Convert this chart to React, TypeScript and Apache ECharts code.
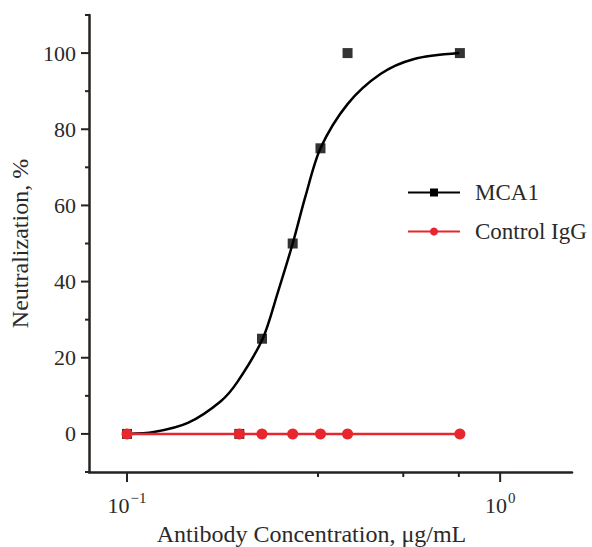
import React, { useEffect, useRef } from 'react';
import * as echarts from 'echarts';

// Measured data (x: antibody concentration, μg/mL; y: neutralization, %)
const concentrations = [0.1, 0.2, 0.23, 0.278, 0.33, 0.39, 0.78];
const mca1Values = [0, 0, 25, 50, 75, 100, 100];
const controlValues = [0, 0, 0, 0, 0, 0, 0];

// Fitted curve for MCA1
const fitX = [0.1, 0.118, 0.1456, 0.1784, 0.1981, 0.231, 0.2533, 0.278, 0.301, 0.33, 0.39, 0.4777, 0.5854, 0.777];
const fitY = [0, 0.5, 2.9, 8.6, 13.8, 25, 37, 50, 62.5, 75, 86.6, 94.5, 98.4, 100];

// Axis ticks
const yMajorTicks = [0, 20, 40, 60, 80, 100];
const yMinorTicks = [-10, 10, 30, 50, 70, 90, 110];
const xMajorTicks = [0.1, 1];
const xMinorTicks = [0.325, 0.55, 0.775];

const X_MIN = 0.0791;
const X_MAX = 1.558;
const Y_MIN = -10;
const Y_MAX = 110;

const FONT = '"Liberation Serif", "Times New Roman", serif';
const AXIS_COLOR = '#26221f';
const TEXT_COLOR = '#2a2a2a';
const RED = '#e8262d';

function tickSeries(data: number[], axis: 'x' | 'y', len: number) {
  return {
    type: 'custom',
    silent: true,
    clip: false,
    z: 10,
    data: data.map((v) => (axis === 'x' ? [v, Y_MIN] : [X_MIN, v])),
    renderItem: (params: any, api: any) => {
      const cs = params.coordSys;
      const p = api.coord([api.value(0), api.value(1)]);
      if (axis === 'x') {
        const y0 = cs.y + cs.height;
        return {
          type: 'line',
          shape: { x1: p[0], y1: y0, x2: p[0], y2: y0 + len },
          style: { stroke: AXIS_COLOR, lineWidth: 2 },
        };
      }
      const x0 = cs.x;
      return {
        type: 'line',
        shape: { x1: x0 - len, y1: p[1], x2: x0, y2: p[1] },
        style: { stroke: AXIS_COLOR, lineWidth: 2 },
      };
    },
  };
}

function isPow10(v: number) {
  const l = Math.log10(v);
  return Math.abs(l - Math.round(l)) < 1e-6;
}

export default function App() {
  const ref = useRef<HTMLDivElement>(null);
  useEffect(() => {
    if (!ref.current) return;
    const chart = echarts.init(ref.current, null, { renderer: 'svg' });
    chart.setOption({
      animation: false,
      backgroundColor: '#ffffff',
      grid: { left: 89, right: 20, top: 15, bottom: 75, containLabel: false, outerBoundsMode: 'none' },
      legend: {
        orient: 'vertical',
        left: 402,
        top: 176,
        itemWidth: 52,
        itemHeight: 10,
        itemGap: 16,
        data: ['MCA1', 'Control IgG'],
        lineStyle: { width: 2 },
        textStyle: { fontFamily: FONT, fontSize: 23, color: TEXT_COLOR, padding: [0, 0, 0, 10] },
      },
      xAxis: {
        type: 'log',
        logBase: 10,
        min: X_MIN,
        max: X_MAX,
        axisLine: { show: true, onZero: false, lineStyle: { color: AXIS_COLOR, width: 2.5 } },
        axisTick: { show: false },
        splitLine: { show: false },
        minorTick: { show: false },
        minorSplitLine: { show: false },
        axisLabel: {
          margin: 18,
          showMinLabel: true,
          showMaxLabel: true,
          formatter: (v: number) => {
            if (!isPow10(v)) return '';
            const e = Math.round(Math.log10(v));
            const s = e < 0 ? '\u2212' + Math.abs(e) : String(e);
            return '{b|10}{s|' + s + '}';
          },
          rich: {
            b: { fontFamily: FONT, fontSize: 22, color: TEXT_COLOR, lineHeight: 26, verticalAlign: 'bottom' },
            s: { fontFamily: FONT, fontSize: 15, color: TEXT_COLOR, lineHeight: 26, verticalAlign: 'top', padding: [0, 0, 10, 1] },
          },
        },
        name: 'Antibody Concentration, \u03bcg/mL',
        nameLocation: 'middle',
        nameGap: 50,
        nameTextStyle: { fontFamily: FONT, fontSize: 24, color: TEXT_COLOR, padding: [0, 38, 0, 0] },
      },
      yAxis: {
        type: 'value',
        min: Y_MIN,
        max: Y_MAX,
        interval: 10,
        axisLine: { show: true, onZero: false, lineStyle: { color: AXIS_COLOR, width: 2.5 } },
        axisTick: { show: false },
        splitLine: { show: false },
        axisLabel: {
          margin: 13,
          fontFamily: FONT,
          fontSize: 22,
          color: TEXT_COLOR,
          formatter: (v: number) => (v >= 0 && v % 20 === 0 ? String(v) : ''),
        },
        name: 'Neutralization, %',
        nameLocation: 'middle',
        nameGap: 56,
        nameTextStyle: { fontFamily: FONT, fontSize: 24, color: TEXT_COLOR },
      },
      series: [
        tickSeries(yMajorTicks, 'y', 8),
        tickSeries(yMinorTicks, 'y', 4),
        tickSeries(xMajorTicks, 'x', 10),
        tickSeries(xMinorTicks, 'x', 5),
        {
          name: 'MCA1',
          type: 'line',
          data: fitX.map((x, i) => [x, fitY[i]]),
          smooth: 0.3,
          symbol: 'rect',
          showSymbol: false,
          color: '#000000',
          lineStyle: { color: '#000000', width: 2.5 },
          itemStyle: { color: '#000000' },
          z: 3,
        },
        {
          name: 'MCA1 data',
          type: 'scatter',
          data: concentrations.map((x, i) => [x, mca1Values[i]]),
          symbol: 'rect',
          symbolSize: 10,
          itemStyle: { color: '#000000' },
          z: 4,
        },
        {
          name: 'Control IgG',
          type: 'line',
          data: concentrations.map((x, i) => [x, controlValues[i]]),
          symbol: 'circle',
          symbolSize: 11,
          showSymbol: true,
          color: RED,
          lineStyle: { color: RED, width: 2.5 },
          itemStyle: { color: RED },
          z: 5,
        },
      ],
    });
    return () => chart.dispose();
  }, []);
  return (
    <div
      ref={ref}
      style={{ position: 'fixed', left: 0, top: 0, width: 592, height: 547, background: '#fff' }}
    />
  );
}
